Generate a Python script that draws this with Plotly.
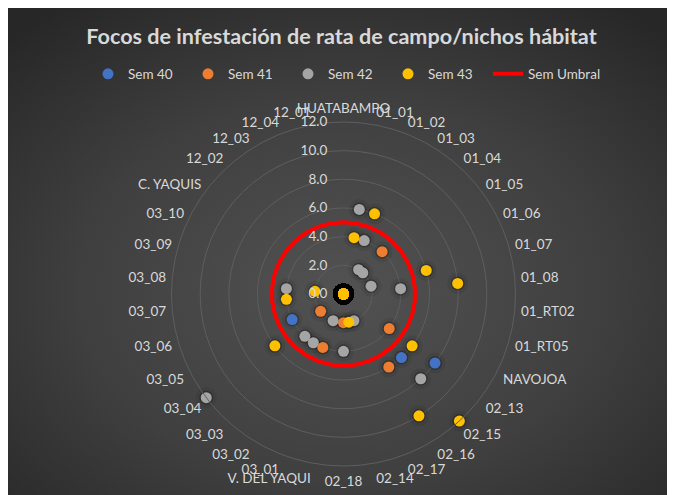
import base64
import plotly.graph_objects as go

categories = ["HUATABAMPO", "01_01", "01_02", "01_03", "01_04", "01_05", "01_06", "01_07",
              "01_08", "01_RT02", "01_RT05", "NAVOJOA", "02_13", "02_15", "02_16", "02_17",
              "02_14", "02_18", "V. DEL YAQUI", "03_01", "03_02", "03_03", "03_04", "03_05",
              "03_06", "03_07", "03_08", "03_09", "03_10", "C. YAQUIS", "12_02", "12_03",
              "12_04", "12_01"]

sem40 = [0, 0, 0, 0, 0, 0, 0, 0, 0, 0, 0, 0, 8, 6, 0, 0,
         0, 0, 0, 0, 0, 0, 0, 4, 0, 0, 0, 0, 0, 0, 0, 0, 0, 0]
sem41 = [0, 0, 0, 0, 4, 0, 0, 0, 0, 0, 0, 0, 4, 0, 6, 0,
         0, 2, 0, 4, 0, 0, 2, 0, 0, 0, 0, 0, 0, 0, 0, 0, 0, 0]
sem42 = [0, 6, 4, 2, 2, 0, 0, 2, 4, 0, 0, 0, 0, 8, 0, 2,
         0, 4, 0, 2, 4, 4, 12, 0, 0, 0, 4, 0, 0, 0, 0, 0, 0, 0]
sem43 = [0, 4, 6, 0, 0, 0, 0, 6, 8, 0, 0, 0, 6, 12, 10, 0,
         2, 0, 0, 0, 0, 0, 6, 0, 0, 4, 2, 0, 0, 0, 0, 0, 0, 0]
umbral = [5] * len(categories)

series_names = ["Sem 40", "Sem 41", "Sem 42", "Sem 43"]
series_values = [sem40, sem41, sem42, sem43]
series_colors = ["#4472C4", "#ED7D31", "#A5A5A5", "#FFC000"]

radial_ticks = [0, 2, 4, 6, 8, 10, 12]

FONT = "Lato"
TXT = "#d9d9d9"
PAD = "\u00a0\u00a0\u00a0"   # widens legend entries like the original spacing

# the page body adds an 8px margin, so the figure is 8px smaller than the window
W, H = 667, 487
fig = go.Figure()

# soft shadows (accumulate where markers overlap)
for vals in series_values:
    fig.add_trace(go.Scatterpolar(
        r=vals, theta=categories, mode="markers",
        marker=dict(size=21, color="rgba(0,0,0,0.07)", line=dict(width=0)),
        showlegend=False, hoverinfo="skip"))
    fig.add_trace(go.Scatterpolar(
        r=vals, theta=categories, mode="markers",
        marker=dict(size=14, color="rgba(0,0,0,0.25)", line=dict(width=0)),
        showlegend=False, hoverinfo="skip"))

for name, vals, col in zip(series_names, series_values, series_colors):
    fig.add_trace(go.Scatterpolar(
        r=vals, theta=categories, mode="markers", name=name + PAD,
        marker=dict(size=11, color=col, line=dict(width=0))))

fig.add_trace(go.Scatterpolar(
    r=umbral + [umbral[0]], theta=categories + [categories[0]],
    mode="lines", name="Sem Umbral",
    line=dict(color="#FF0000", width=4)))

# background radial gradient
svg = f'''<svg xmlns="http://www.w3.org/2000/svg" width="{W}" height="{H}">
<defs><radialGradient id="g" cx="0.5" cy="0.58" r="0.72">
<stop offset="0" stop-color="#525252"/><stop offset="0.55" stop-color="#3f3f3f"/>
<stop offset="1" stop-color="#272727"/></radialGradient></defs>
<rect width="{W}" height="{H}" fill="url(#g)"/></svg>'''
src = "data:image/svg+xml;base64," + base64.b64encode(svg.encode()).decode()

cx, cy, R = 335.5, 286.0, 172.0
fig.update_layout(
    width=W, height=H,
    margin=dict(l=0, r=0, t=0, b=0),
    paper_bgcolor="#333333",
    images=[dict(source=src, xref="paper", yref="paper", x=0, y=1,
                 sizex=1, sizey=1, sizing="stretch", layer="below",
                 xanchor="left", yanchor="top")],
    title=dict(text="<b>Focos de infestación de rata de campo/nichos hábitat</b>",
               x=0.5, xanchor="center", y=1 - 28 / H, yanchor="middle",
               font=dict(family=FONT, size=21.6, color=TXT)),
    legend=dict(orientation="h", x=80 / W, xanchor="left", y=1 - 66 / H, yanchor="middle",
                font=dict(family=FONT, size=13.5, color=TXT), bgcolor="rgba(0,0,0,0)",
                itemwidth=30),
    polar=dict(
        domain=dict(x=[(cx - R) / W, (cx + R) / W], y=[(H - cy - R) / H, (H - cy + R) / H]),
        bgcolor="rgba(0,0,0,0)",
        gridshape="circular",
        angularaxis=dict(type="category", categoryarray=categories, direction="clockwise",
                         rotation=90, showgrid=False, showline=True, linecolor="#5e5e5e",
                         linewidth=1, ticks="outside", ticklen=3,
                         tickcolor="rgba(0,0,0,0)",
                         tickfont=dict(family=FONT, size=13.5, color=TXT)),
        radialaxis=dict(range=[0, 12], tickvals=radial_ticks, tickformat=".1f", angle=90,
                        tickangle=90, showline=False, ticks="outside", ticklen=11,
                        tickcolor="rgba(0,0,0,0)", gridcolor="#5e5e5e",
                        gridwidth=1, side="counterclockwise",
                        tickfont=dict(family=FONT, size=13.5, color=TXT)),
    ),
)

fig.write_html("out.html")
